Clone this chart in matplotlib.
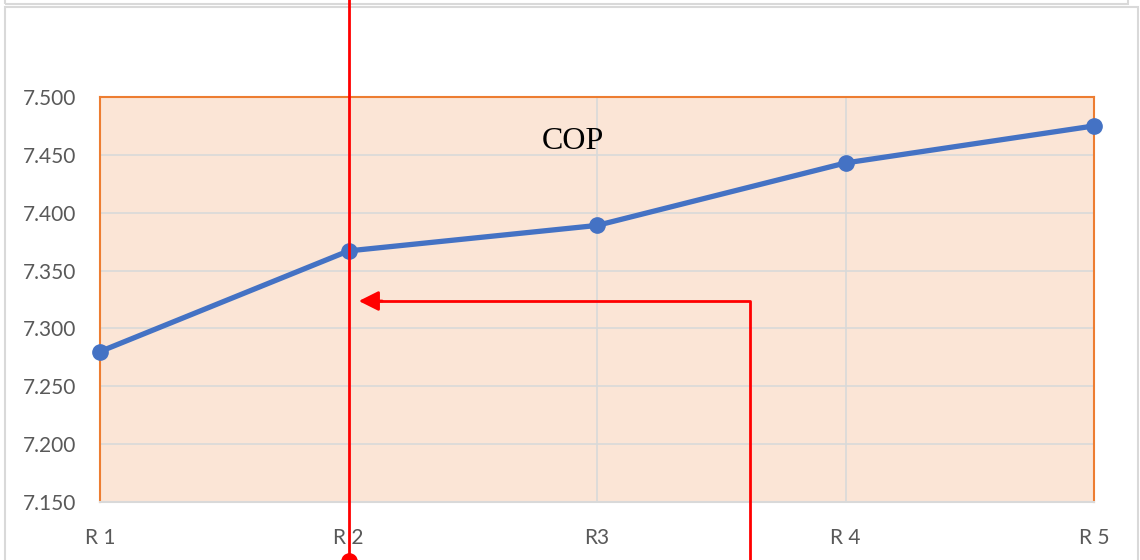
import numpy as np
import matplotlib.pyplot as plt
from matplotlib.patches import Rectangle, FancyArrowPatch
from matplotlib.lines import Line2D

runs = ["R 1", "R 2", "R3", "R 4", "R 5"]
cop = [7.280, 7.367, 7.389, 7.443, 7.475]
yticks = [7.150, 7.200, 7.250, 7.300, 7.350, 7.400, 7.450, 7.500]

W, H = 1140, 560
fig = plt.figure(figsize=(W / 100, H / 100), dpi=100)

def fx(px):
    return px / W

def fy(py):
    return 1 - py / H

# frames around the chart (gray borders)
fig.patches.append(Rectangle((fx(5), fy(4)), fx(1128) - fx(5), 0.02, transform=fig.transFigure,
                             fill=False, ec="#d9d9d9", lw=1.5))
fig.patches.append(Rectangle((fx(5), fy(580)), fx(1138) - fx(5), fy(7) - fy(580), transform=fig.transFigure,
                             fill=False, ec="#d9d9d9", lw=1.5, clip_on=False))

ax = fig.add_axes([fx(100), fy(502), fx(1094) - fx(100), fy(97) - fy(502)])
ax.set_facecolor("#fbe5d6")
x = np.arange(len(runs))
ax.plot(x, cop, color="#4472c4", lw=3.8, marker="o", ms=11, zorder=3, clip_on=False)

ax.set_xlim(0, 4)
ax.set_ylim(7.15, 7.5)
ax.set_yticks(yticks)
ax.set_yticklabels(["%.3f" % v for v in yticks])
ax.set_xticks(x)
ax.set_xticklabels(runs)
ax.grid(True, color="#d9d9d9", lw=1.2)
ax.set_axisbelow(True)
for s in ["top", "left", "right"]:
    ax.spines[s].set_color("#ed7d31")
    ax.spines[s].set_linewidth(1.5)
ax.spines["bottom"].set_color("#d9d9d9")
ax.spines["bottom"].set_linewidth(1.5)
ax.tick_params(length=0, labelsize=15, labelcolor="#595959")
ax.tick_params(axis="x", pad=19)
ax.tick_params(axis="y", pad=17)
for lab in ax.get_xticklabels() + ax.get_yticklabels():
    lab.set_fontfamily("Lato")

ax.text(0.476, 0.89, "COP", transform=ax.transAxes, ha="center", va="center",
        fontsize=23, family="Liberation Serif", color="black")

# red annotation lines
red = "#ff0000"
fig.add_artist(Line2D([fx(349), fx(349)], [fy(0), fy(560)], color=red, lw=2, transform=fig.transFigure))
fig.add_artist(Line2D([fx(349)], [fy(561)], color=red, marker="o", ms=11, ls="none",
                      transform=fig.transFigure, clip_on=False))
fig.add_artist(Line2D([fx(750), fx(750), fx(380)], [fy(560), fy(301), fy(301)], color=red, lw=2,
                      transform=fig.transFigure))
fig.add_artist(FancyArrowPatch((fx(385), fy(301)), (fx(356), fy(301)), transform=fig.transFigure,
                               arrowstyle="-|>,head_length=8,head_width=4", color=red, lw=2,
                               mutation_scale=1.5))

fig.savefig("out.png", dpi=100)
